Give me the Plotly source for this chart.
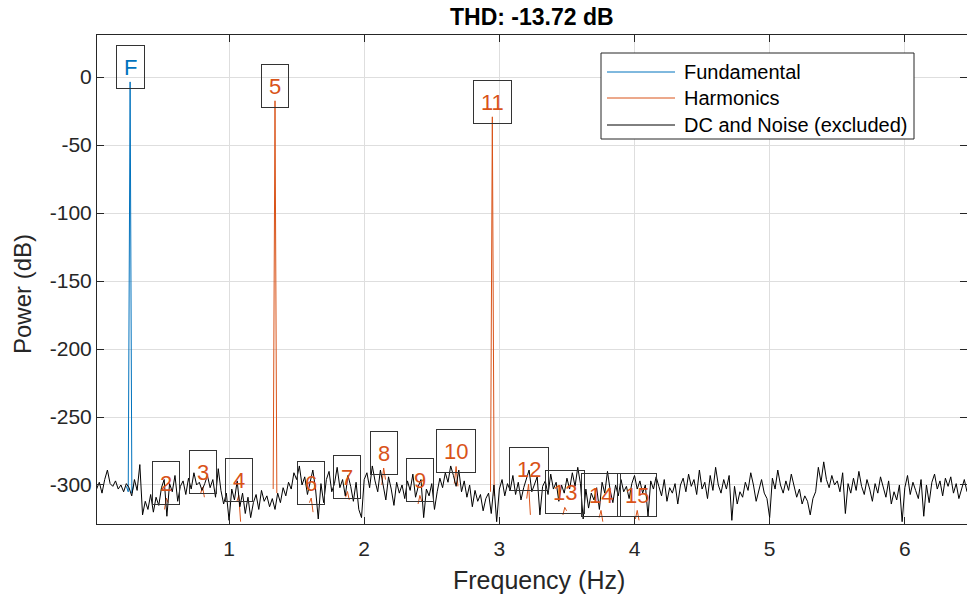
import plotly.graph_objects as go

# ---------------- data ----------------
noise_start_hz = 0.02
noise_step_hz = 0.02
noise_db = [
    -303, -298, -306, -296, -289, -299, -301, -297, -303, -300, -305, -299,
    -302, -308, -296, -304,
    -285, -322, -312, -318, -307, -320, -309, -315, -302,
    -296, -323, -299, -305, -293, -312, -301, -297, -307, -295, -303, -291, -300, -298, -304,
    -299, -293, -302, -296, -309, -288, -304, -314, -306, -326,
    -303, -311, -297, -316, -306, -321, -309, -324, -313, -307, -318, -304, -312, -308, -316,
    -310, -318, -306, -313, -302,
    -308, -298, -303, -291, -296, -286, -300, -294, -307, -297, -289, -303, -325, -299, -313,
    -296, -290, -305, -299, -287, -302, -296, -308, -293, -301, -312, -298, -318, -324, -296,
    -291, -302, -286, -297, -305, -289, -299, -311, -294, -303, -315, -298, -306, -300, -310,
    -297, -304, -292, -309, -301, -296, -324, -303, -308, -299, -318, -305, -295, -302, -291,
    -298, -286, -293, -301, -289, -305, -297, -309, -300, -316, -304, -312, -307, -319, -310,
    -306, -321, -300, -327, -303, -296, -308, -299, -304, -293, -307, -298, -311, -302, -296,
    -289, -305, -299, -294, -322, -301, -297, -307, -292, -303, -298, -312, -300, -306, -295,
    -303, -291, -301, -287, -299, -325, -303, -317, -306, -311, -302, -318, -298, -306, -290,
    -304, -313, -300, -308, -296, -305, -301, -310, -299, -293, -303, -297, -306, -300, -323,
    -297, -303, -294, -301, -308, -296, -312, -302, -306, -299, -314, -300, -295, -305, -292,
    -301, -296, -307, -289, -303, -298, -310, -293, -304, -287, -300, -306, -296, -303, -293,
    -326, -301, -314, -305, -309, -298, -304, -291, -300, -312, -303, -296, -306, -310, -324,
    -295, -303, -289, -300, -306, -297, -304, -292, -301, -309, -303, -314, -308, -312, -322,
    -310, -305, -287, -298, -283, -296, -302, -293, -300, -297, -305, -291, -321, -299, -306,
    -295, -304, -290, -301, -307, -296, -303, -312, -299, -306, -294, -302, -309, -297, -314,
    -305, -311, -300, -327, -302, -293, -307, -298, -304, -310, -296, -323, -300, -313, -298,
    -292, -303, -297, -308, -295, -301, -294, -306, -299, -310, -302, -296, -305,
]

fund_freq_hz = [0.240, 0.254, 0.268, 0.281, 0.295]
fund_db = [-301, -305, -3.5, -306, -300]

bin_hz = 0.0135
harm_labels = ["2", "3", "4", "5", "6", "7", "8", "9", "10", "11", "12", "13", "14", "15"]
harm_freq_hz = [0.536, 0.804, 1.072, 1.340, 1.608, 1.876, 2.144, 2.412, 2.680,
                2.948, 3.216, 3.484, 3.752, 4.020]
harm_peak_db = [-309.6, -301.5, -307.7, -17.4, -309.6, -304.8, -287.5, -307.7,
                -286.4, -29.2, -299.3, -316.5, -318.7, -318.7]
harm_left_db = [-318, -306, -312, -303, -313, -309, -300, -314, -299, -305,
                -310, -322, -324, -325]
harm_right_db = [-313, -309, -327, -306, -320, -311, -296, -312, -301, -308,
                 -322, -319, -327, -326]

x_tick_vals = [1, 2, 3, 4, 5, 6]
x_tick_text = ["1", "2", "3", "4", "5", "6"]
y_tick_vals = [-300, -250, -200, -150, -100, -50, 0]
y_tick_text = ["-300", "-250", "-200", "-150", "-100", "-50", "0"]

thd_db = -13.72

# ---------------- style ----------------
BLUE = "#0072BD"
ORANGE = "#D95319"
AX = "#262626"
GRID = "#dedede"
FONT = "Liberation Sans, Arial, Helvetica, sans-serif"

W, H = 967, 601
ML, MR, MT, MB = 97, 0, 35, 77
PW, PH = W - ML - MR, H - MT - MB


def px(x_page):
    return (x_page - ML) / PW


def py(y_page):
    return (H - MB - y_page) / PH


noise_x = [noise_start_hz + noise_step_hz * i for i in range(len(noise_db))]

hx, hy = [], []
for f, l, p, r in zip(harm_freq_hz, harm_left_db, harm_peak_db, harm_right_db):
    hx += [f - bin_hz, f, f + bin_hz, None]
    hy += [l, p, r, None]

fig = go.Figure()
fig.add_trace(go.Scatter(x=fund_freq_hz, y=fund_db, mode="lines", name="Fundamental",
                         line=dict(color=BLUE, width=1), showlegend=False))
fig.add_trace(go.Scatter(x=hx, y=hy, mode="lines", name="Harmonics",
                         line=dict(color=ORANGE, width=1), showlegend=False))
fig.add_trace(go.Scatter(x=noise_x, y=noise_db, mode="lines", name="DC and Noise (excluded)",
                         line=dict(color="black", width=1), showlegend=False))

annotations = []
label_text = ["F"] + harm_labels
label_x = [fund_freq_hz[2]] + harm_freq_hz
label_y = [max(fund_db)] + harm_peak_db
label_col = [BLUE] + [ORANGE] * len(harm_labels)
for t, x, y, c in zip(label_text, label_x, label_y, label_col):
    annotations.append(dict(x=x, y=y, xref="x", yref="y", text=t, showarrow=False,
                            xanchor="center", yanchor="middle", yshift=15,
                            height=28,
                            font=dict(family=FONT, size=22, color=c),
                            bordercolor="#333333", borderwidth=1, borderpad=7))

annotations.append(dict(x=px(22), y=py(294), xref="paper", yref="paper", text="Power (dB)",
                        textangle=-90, showarrow=False, xanchor="center", yanchor="middle",
                        font=dict(family=FONT, size=24, color=AX)))
annotations.append(dict(x=px(539), y=py(580), xref="paper", yref="paper",
                        text="Frequency (Hz)", showarrow=False, xanchor="center",
                        yanchor="middle", font=dict(family=FONT, size=25, color=AX)))
# plot title (bold), centred over the axes
annotations.append(dict(x=px(532), y=py(17), xref="paper", yref="paper",
                        text=f"<b>THD: {thd_db:.2f} dB</b>", showarrow=False,
                        xanchor="center", yanchor="middle",
                        font=dict(family=FONT, size=23, color="black")))

shapes = [dict(type="rect", xref="paper", yref="paper", x0=px(601), x1=px(914),
               y0=py(139), y1=py(53), line=dict(color=AX, width=1),
               fillcolor="white", layer="above")]
leg_items = [("Fundamental", BLUE, 72), ("Harmonics", ORANGE, 98),
             ("DC and Noise (excluded)", "black", 125)]
for name, col, yy in leg_items:
    shapes.append(dict(type="line", xref="paper", yref="paper", x0=px(607), x1=px(675),
                       y0=py(yy), y1=py(yy), line=dict(color=col, width=1), layer="above"))
    annotations.append(dict(x=px(682), y=py(yy), xref="paper", yref="paper", text=name,
                            showarrow=False, xanchor="left", yanchor="middle",
                            font=dict(family=FONT, size=20, color="black")))

fig.update_layout(
    width=W, height=H,
    margin=dict(l=ML, r=MR, t=MT, b=MB, autoexpand=False),
    paper_bgcolor="white", plot_bgcolor="white",
    font=dict(family=FONT, color=AX),
    showlegend=False,
    annotations=annotations,
    shapes=shapes,
)
fig.update_xaxes(range=[0.023, 6.46], tickmode="array", tickvals=x_tick_vals,
                 ticktext=x_tick_text, ticks="inside", ticklen=7, ticklabelstandoff=6,
                 tickcolor=AX, showline=True, linecolor=AX, linewidth=1, mirror="ticks",
                 showgrid=True, gridcolor=GRID, zeroline=False,
                 tickfont=dict(family=FONT, size=21, color=AX))
fig.update_yaxes(range=[-328.7, 31], tickmode="array", tickvals=y_tick_vals,
                 ticktext=y_tick_text, ticks="inside", ticklen=7,
                 tickcolor=AX, showline=True, linecolor=AX, linewidth=1, mirror="ticks",
                 showgrid=True, gridcolor=GRID, zeroline=False,
                 tickfont=dict(family=FONT, size=21, color=AX))

fig.write_html(
    "out.html",
    config={"displayModeBar": False},
    post_script="document.body.style.margin='0';document.body.style.overflow='hidden';",
)
